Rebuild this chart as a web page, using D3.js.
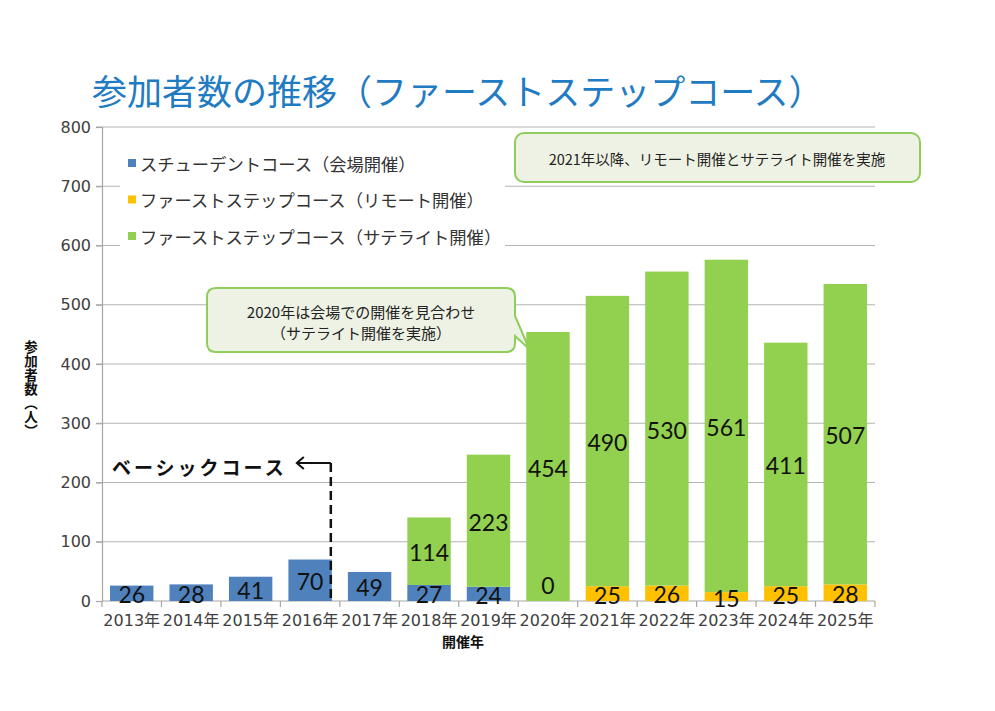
<!DOCTYPE html>
<html>
<head>
<meta charset="utf-8">
<script src="https://cdn.jsdelivr.net/npm/d3@7"></script>
<style>
  body { margin: 0; background: #fff; }
  svg { font-family: "Noto Sans CJK JP", sans-serif; }
</style>
</head>
<body>
<div id="chart"></div>
<script>
// data
var years = ["2013年","2014年","2015年","2016年","2017年","2018年","2019年","2020年","2021年","2022年","2023年","2024年","2025年"];
var student   = [26, 28, 41, 70, 49, 27, 24, null, null, null, null, null, null];
var remote    = [null, null, null, null, null, null, null, 0, 25, 26, 15, 25, 28];
var satellite = [null, null, null, null, null, 114, 223, 454, 490, 530, 561, 411, 507];
var seriesNames = ["スチューデントコース（会場開催）", "ファーストステップコース（リモート開催）", "ファーストステップコース（サテライト開催）"];
var seriesColors = ["#4f81bd", "#ffc000", "#92d050"];
var yTicks = [0, 100, 200, 300, 400, 500, 600, 700, 800];

var width = 995, height = 711;
var margin = {top: 127, left: 102, right: 120, bottom: 110};

var svg = d3.select("#chart").append("svg")
    .attr("width", width)
    .attr("height", height);

var rows = years.map(function(y, i) {
    return {year: y, student: student[i] || 0, remote: remote[i] || 0, satellite: satellite[i] || 0,
            raw: [student[i], remote[i], satellite[i]]};
});
var keys = ["student", "remote", "satellite"];
var stacked = d3.stack().keys(keys)(rows);

var xScale = d3.scaleBand()
    .domain(years)
    .range([margin.left, width - margin.right])
    .paddingInner(0.27)
    .paddingOuter(0.135);

var yScale = d3.scaleLinear()
    .domain([0, 800])
    .range([height - margin.bottom, margin.top]);

// title
svg.append("text")
    .attr("x", 92)
    .attr("y", 105)
    .attr("fill", "#1f7bc2")
    .attr("font-size", 35)
    .text("参加者数の推移（ファーストステップコース）");

// gridlines
svg.append("g").selectAll("line")
    .data(yTicks.filter(function(d) { return d > 0; }))
    .enter().append("line")
    .attr("x1", margin.left - 6)
    .attr("x2", width - margin.right)
    .attr("y1", function(d) { return yScale(d); })
    .attr("y2", function(d) { return yScale(d); })
    .attr("stroke", "#b3b3b3")
    .attr("stroke-width", 1.2);

// y axis
var yAxis = svg.append("g")
    .attr("transform", `translate(${margin.left}, 0)`)
    .call(d3.axisLeft(yScale).tickValues(yTicks).tickSize(6).tickPadding(5));
yAxis.selectAll("path, line").attr("stroke", "#a6a6a6").attr("stroke-width", 1.2);
yAxis.selectAll("text")
    .attr("font-family", "DejaVu Sans, sans-serif")
    .attr("font-size", 16)
    .attr("fill", "#404040");

// x axis with ticks at band boundaries
var xAxisG = svg.append("g")
    .attr("transform", `translate(0, ${yScale(0)})`);
xAxisG.append("line")
    .attr("x1", margin.left).attr("x2", width - margin.right)
    .attr("stroke", "#a6a6a6").attr("stroke-width", 1.2);
var step = xScale.step();
xAxisG.selectAll("line.tk")
    .data(d3.range(years.length + 1))
    .enter().append("line")
    .attr("class", "tk")
    .attr("x1", function(i) { return margin.left + i * step; })
    .attr("x2", function(i) { return margin.left + i * step; })
    .attr("y1", 0).attr("y2", 6)
    .attr("stroke", "#a6a6a6").attr("stroke-width", 1.2);
xAxisG.selectAll("text")
    .data(years)
    .enter().append("text")
    .attr("x", function(d) { return xScale(d) + xScale.bandwidth() / 2; })
    .attr("y", 25)
    .attr("text-anchor", "middle")
    .attr("font-family", "DejaVu Sans, Noto Sans CJK JP, sans-serif")
    .attr("font-size", 16)
    .attr("fill", "#404040")
    .text(function(d) { return d; });

// legend box (white background hides gridlines)
var legend = svg.append("g");
legend.append("rect")
    .attr("x", 120).attr("y", 140).attr("width", 385).attr("height", 110)
    .attr("fill", "#fff");
seriesNames.forEach(function(name, i) {
    var ly = 163 + i * 36.5;
    legend.append("rect")
        .attr("x", 128).attr("y", ly - 4).attr("width", 8).attr("height", 8)
        .attr("fill", seriesColors[i]);
    legend.append("text")
        .attr("x", 140).attr("y", ly)
        .attr("dominant-baseline", "central")
        .attr("font-size", 17.3)
        .attr("fill", "#333")
        .text(name);
});

// bars
var layers = svg.append("g").selectAll("g")
    .data(stacked)
    .enter().append("g")
    .attr("fill", function(d, i) { return seriesColors[i]; });
layers.selectAll("rect")
    .data(function(d) { return d; })
    .enter().append("rect")
    .attr("x", function(d) { return xScale(d.data.year); })
    .attr("y", function(d) { return yScale(d[1]); })
    .attr("width", xScale.bandwidth())
    .attr("height", function(d) { return yScale(d[0]) - yScale(d[1]); });

// bar value labels
var labels = svg.append("g");
stacked.forEach(function(layer, k) {
    layer.forEach(function(d) {
        var v = d.data.raw[k];
        if (v === null || v === undefined) return;
        var cy = (yScale(d[0]) + yScale(d[1])) / 2;
        if (v === 0) cy = yScale(0) - 17;
        labels.append("text")
            .attr("x", xScale(d.data.year) + xScale.bandwidth() / 2)
            .attr("y", cy + 1)
            .attr("text-anchor", "middle")
            .attr("dominant-baseline", "central")
            .attr("font-family", "Lato, sans-serif")
            .attr("font-size", 23)
            .attr("fill", "#111")
            .text(v);
    });
});

// basic course annotation
var lineX = xScale("2016年") + xScale.bandwidth() - 1;
var lineTop = yScale(233);
svg.append("line")
    .attr("x1", lineX).attr("x2", lineX)
    .attr("y1", lineTop).attr("y2", yScale(0))
    .attr("stroke", "#111").attr("stroke-width", 2.5)
    .attr("stroke-dasharray", "9,5");
svg.append("path")
    .attr("d", `M${lineX},${lineTop} H${lineX - 33}`)
    .attr("stroke", "#111").attr("stroke-width", 2).attr("fill", "none");
svg.append("path")
    .attr("d", `M${lineX - 27},${lineTop - 6} L${lineX - 34},${lineTop} L${lineX - 27},${lineTop + 6}`)
    .attr("stroke", "#111").attr("stroke-width", 2).attr("fill", "none");
svg.append("text")
    .attr("x", 112).attr("y", lineTop + 4)
    .attr("dominant-baseline", "central")
    .attr("font-size", 19)
    .attr("font-weight", "bold")
    .attr("letter-spacing", 3)
    .attr("fill", "#111")
    .text("ベーシックコース");

// callout 1
svg.append("rect")
    .attr("x", 515).attr("y", 133).attr("width", 405).attr("height", 49)
    .attr("rx", 9)
    .attr("fill", "#eef2e4").attr("stroke", "#8fcd5a").attr("stroke-width", 2);
svg.append("text")
    .attr("x", 717).attr("y", 158)
    .attr("text-anchor", "middle").attr("dominant-baseline", "central")
    .attr("font-size", 14.5).attr("fill", "#222")
    .text("2021年以降、リモート開催とサテライト開催を実施");

// callout 2 with tail pointing to 2020 bar
var tipX = xScale("2020年") + 3, tipY = yScale(454) + 17;
svg.append("path")
    .attr("d", `M216,288 H506 Q515,288 515,297 V316 L${tipX},${tipY} L515,336 V343 Q515,352 506,352 H216 Q207,352 207,343 V297 Q207,288 216,288 Z`)
    .attr("fill", "#eef2e4").attr("stroke", "#8fcd5a").attr("stroke-width", 2);
svg.append("text")
    .attr("x", 361).attr("y", 311)
    .attr("text-anchor", "middle").attr("dominant-baseline", "central")
    .attr("font-size", 15).attr("fill", "#222")
    .text("2020年は会場での開催を見合わせ");
svg.append("text")
    .attr("x", 361).attr("y", 332)
    .attr("text-anchor", "middle").attr("dominant-baseline", "central")
    .attr("font-size", 15).attr("fill", "#222")
    .text("（サテライト開催を実施）");

// axis titles
svg.append("text")
    .attr("x", 31).attr("y", 340)
    .attr("style", "writing-mode: vertical-rl")
    .attr("font-size", 13.5).attr("font-weight", "bold")
    .attr("letter-spacing", 0.5)
    .attr("fill", "#111")
    .text("参加者数（人）");
svg.append("text")
    .attr("x", 463).attr("y", 641)
    .attr("text-anchor", "middle").attr("dominant-baseline", "central")
    .attr("font-size", 14).attr("font-weight", "bold")
    .attr("fill", "#111")
    .text("開催年");
</script>
</body>
</html>
